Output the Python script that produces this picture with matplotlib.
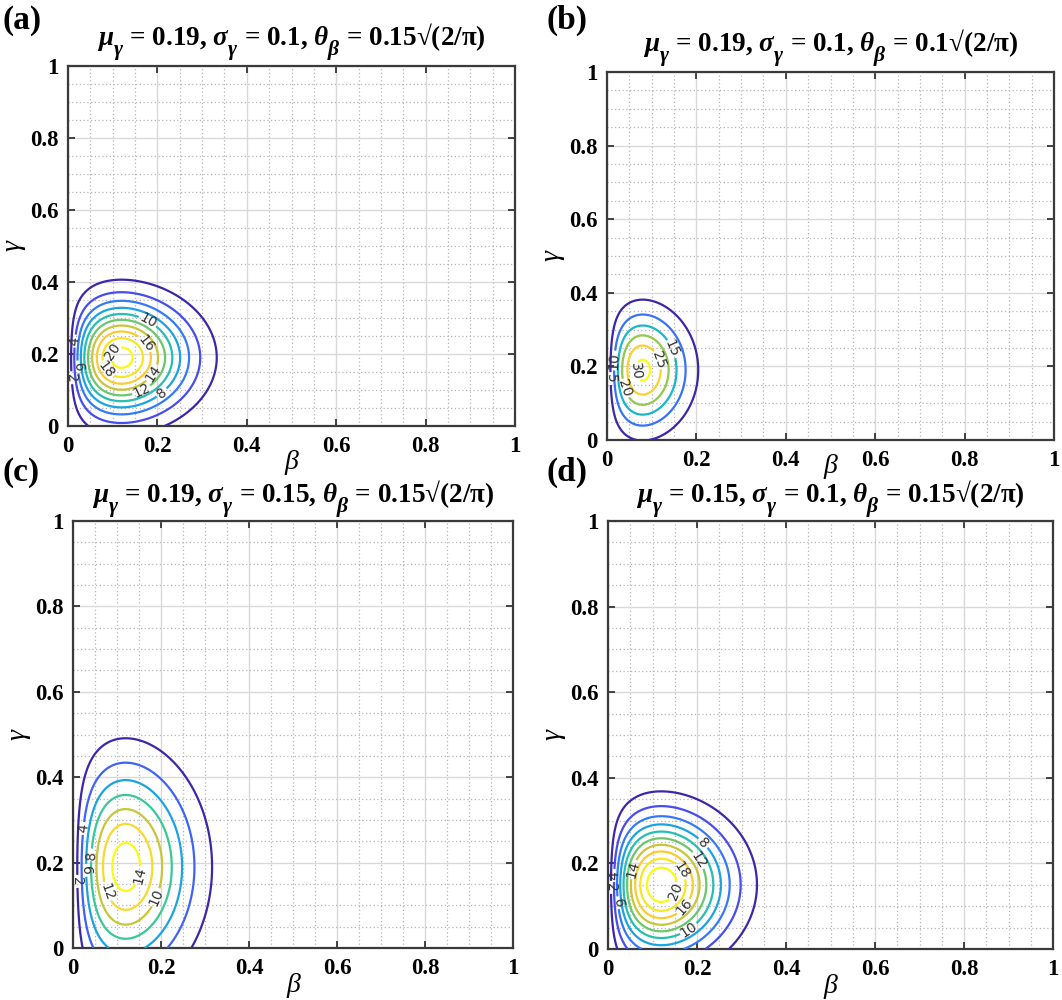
import math
import numpy as np
import matplotlib
matplotlib.use("Agg")
import matplotlib.pyplot as plt
from matplotlib.colors import LinearSegmentedColormap, Normalize
from matplotlib.ticker import MultipleLocator

plt.rcParams['font.family'] = ['Liberation Serif', 'DejaVu Serif']
plt.rcParams['mathtext.fontset'] = 'custom'
plt.rcParams['mathtext.rm'] = 'Liberation Serif:bold'
plt.rcParams['mathtext.it'] = 'Liberation Serif:italic:bold'
plt.rcParams['mathtext.bf'] = 'Liberation Serif:bold'

# MATLAB puts subscripts lower (and a bit bigger) than matplotlib does
try:
    from matplotlib import _mathtext
    _mathtext.FontConstantsBase.sub1 = 0.8
    _mathtext.FontConstantsBase.sub2 = 0.9
    _mathtext.SHRINK_FACTOR = 0.8
except Exception:
    pass

# parameters
panel_tags = ['(a)', '(b)', '(c)', '(d)']
mu_gamma = [0.19, 0.19, 0.19, 0.15]
sigma_gamma = [0.1, 0.1, 0.15, 0.1]
theta_coef = [0.15, 0.1, 0.15, 0.15]   # theta_beta = coef * sqrt(2/pi)
titles = [
    r'$\mu_{\gamma}$ = 0.19, $\sigma_{\gamma}$ = 0.1, $\theta_{\beta}$ = 0.15√(2/π)',
    r'$\mu_{\gamma}$ = 0.19, $\sigma_{\gamma}$ = 0.1, $\theta_{\beta}$ = 0.1√(2/π)',
    r'$\mu_{\gamma}$ = 0.19, $\sigma_{\gamma}$ = 0.15, $\theta_{\beta}$ = 0.15√(2/π)',
    r'$\mu_{\gamma}$ = 0.15, $\sigma_{\gamma}$ = 0.1, $\theta_{\beta}$ = 0.15√(2/π)',
]
contour_levels = [
    [2, 4, 6, 8, 10, 12, 14, 16, 18, 20],
    [5, 10, 15, 20, 25, 30],
    [2, 4, 6, 8, 10, 12, 14],
    [2, 4, 6, 8, 10, 12, 14, 16, 18, 20],
]
tick_vals = [0, 0.2, 0.4, 0.6, 0.8, 1]
tick_labels = ['0', '0.2', '0.4', '0.6', '0.8', '1']

# approximate MATLAB parula
parula = LinearSegmentedColormap.from_list('parula', [
    (0.2422, 0.1504, 0.6603), (0.2810, 0.3228, 0.9579), (0.1786, 0.5289, 0.9682),
    (0.0689, 0.6948, 0.8394), (0.2161, 0.7843, 0.5923), (0.6720, 0.7793, 0.2227),
    (0.9970, 0.7659, 0.2199), (0.9650, 0.8900, 0.1500), (0.9769, 0.9839, 0.0805)])

# axes boxes in pixels: left, top, right, bottom
boxes = [(68, 66, 515, 426), (607, 72, 1054, 440),
         (73, 521, 513, 948), (608, 521, 1053, 949)]
tag_pos = [(3, 20), (546, 20), (3, 472), (546, 472)]
xlabel_pad = [-5, -12, -4, -4]
title_pad = [15, 15, 13, 13]
W, H = 1062, 1000

beta = np.linspace(0, 1, 501)
gam = np.linspace(0, 1, 501)
B, G = np.meshgrid(beta, gam)


def Phi(x):
    return 0.5 * (1 + math.erf(x / math.sqrt(2)))


fig = plt.figure(figsize=(W / 100, H / 100), dpi=100)

for i in range(4):
    l, t, r, b = boxes[i]
    ax = fig.add_axes([l / W, 1 - b / H, (r - l) / W, (b - t) / H])

    th = theta_coef[i] * math.sqrt(2 / math.pi)
    mu, sg = mu_gamma[i], sigma_gamma[i]
    ray = B / th**2 * np.exp(-B**2 / (2 * th**2))
    norm_g = np.exp(-(G - mu)**2 / (2 * sg**2)) / (sg * math.sqrt(2 * math.pi))
    norm_g /= Phi((1 - mu) / sg) - Phi(-mu / sg)
    Z = ray * norm_g

    lev = contour_levels[i]
    cs = ax.contour(B, G, Z, levels=lev, cmap=parula,
                    norm=Normalize(min(lev), max(lev)), linewidths=1.6, zorder=3)
    ax.clabel(cs, inline=True, fontsize=10, fmt='%d', colors='#333333',
              inline_spacing=3)
    for txt in cs.labelTexts:
        txt.set_fontfamily('DejaVu Sans')

    ax.set_xlim(0, 1)
    ax.set_ylim(0, 1)
    ax.set_xticks(tick_vals)
    ax.set_xticklabels(tick_labels)
    ax.set_yticks(tick_vals)
    ax.set_yticklabels(tick_labels)
    ax.xaxis.set_minor_locator(MultipleLocator(0.05))
    ax.yaxis.set_minor_locator(MultipleLocator(0.05))
    ax.grid(which='major', color='#d9d9d9', lw=1.0, zorder=0)
    ax.grid(which='minor', color='#b5b5b5', lw=0.9, ls=(0, (1, 2)), zorder=0)
    ax.tick_params(which='major', direction='in', length=5, width=1.3,
                   top=True, right=True, labelsize=16.5, pad=7, color='#333333')
    ax.tick_params(which='minor', length=0)
    for lab in ax.get_xticklabels() + ax.get_yticklabels():
        lab.set_fontweight('bold')
    for s in ax.spines.values():
        s.set_linewidth(1.6)
        s.set_color('#3a3a3a')

    ax.set_xlabel('β', fontsize=20, style='italic', labelpad=xlabel_pad[i])
    ax.set_ylabel('γ', fontsize=20, style='italic', labelpad=3)
    ax.set_title(titles[i], fontsize=19.5, fontweight='bold', pad=title_pad[i])

    fig.text(tag_pos[i][0] / W, 1 - tag_pos[i][1] / H, panel_tags[i],
             fontsize=24, fontweight='bold', va='center', ha='left')

fig.savefig('out.png', dpi=100)
